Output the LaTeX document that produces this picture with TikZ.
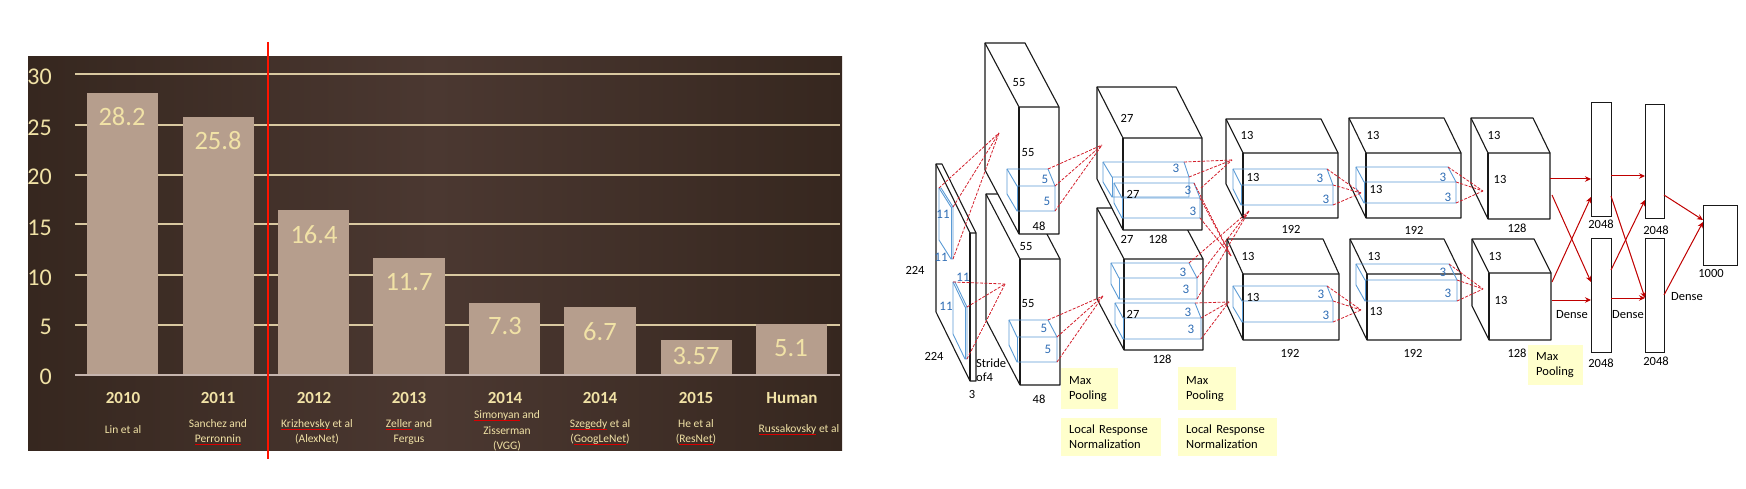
\documentclass[tikz,border=0pt]{standalone}
\usepackage{fontspec}
\setmainfont{Carlito}
\usetikzlibrary{positioning,arrows.meta}
\definecolor{panelDark}{HTML}{36271F}
\definecolor{panelMid}{HTML}{4B3831}
\definecolor{barFill}{HTML}{B69E8D}
\definecolor{gridCol}{HTML}{D9C8A0}
\definecolor{baseCol}{HTML}{C6B5AE}
\definecolor{chartText}{HTML}{F1E2A6}
\definecolor{kernelBlue}{HTML}{5B9BD5}
\definecolor{kernelText}{HTML}{2F6DB5}
\definecolor{linkRed}{HTML}{D3202C}
\definecolor{denseRed}{HTML}{C00000}
\definecolor{noteFill}{HTML}{FFFFCC}
\tikzset{%
  panel/.style={left color=panelDark, right color=panelDark, middle color=panelMid, anchor=north west, inner sep=0pt, minimum width=814pt, minimum height=394pt},
  gridline/.style={draw=gridCol, line width=1.2pt},
  barbox/.style={fill=barFill, anchor=north west, inner sep=0pt, minimum width=71pt},
  axislabel/.style={text=chartText, anchor=east, inner sep=0pt, font=\fontsize{24}{26}\selectfont},
  vallabel/.style={text=chartText, inner sep=0pt, font=\fontsize{26.5}{28}\selectfont},
  yearlabel/.style={text=chartText, inner sep=0pt, font=\fontsize{17}{19}\selectfont\bfseries},
  authorlabel/.style={text=chartText, inner sep=0pt, align=center, font=\fontsize{11.5}{15.5}\selectfont},
  blockline/.style={draw=black!90, line width=1.1pt, line join=round},
  kernelline/.style={draw=kernelBlue, line width=.9pt, line join=round},
  netlabel/.style={inner sep=0pt, font=\fontsize{12.5}{14}\selectfont},
  kernellabel/.style={text=kernelText, inner sep=0pt, font=\fontsize{13}{14}\selectfont},
  redlink/.style={draw=linkRed, line width=.8pt, dash pattern=on 3pt off 1.5pt},
  denselink/.style={draw=denseRed, line width=1pt, -{Stealth[length=6pt,width=5.5pt]}},
  denselayer/.style={draw=black!90, fill=white, line width=1.1pt, inner sep=0pt, anchor=north west},
  notebox/.style={fill=noteFill, inner sep=0pt, anchor=north west, align=left, text width=#1, font=\fontsize{12.5}{15}\selectfont}
}
% name, back x, back y, front x, front y, width, height
\newcommand{\block}[7]{%
  \draw[blockline, fill=white] (#2,#3) -- ({#2+#6},#3) -- ({#4+#6},#5) -- ({#4+#6},{#5+#7}) -- (#4,{#5+#7}) -- (#2,{#3+#7}) -- cycle;
  \draw[blockline] (#2,#3) -- (#4,#5) -- ({#4+#6},#5);
  \draw[blockline] (#4,#5) -- (#4,{#5+#7});
}
% name, back left, back right, back y, front left, front right, front y, front bottom
\newcommand{\kernelbox}[8]{%
  \coordinate (#1-bl) at (#2,#4);
  \coordinate (#1-bk) at (#3,#4);
  \coordinate (#1-fr) at (#6,#7);
  \coordinate (#1-br) at (#6,#8);
  \draw[kernelline] (#2,{#4+#8-#7}) -- (#2,#4) -- (#3,#4) -- (#6,#7) -- (#6,#8) -- (#5,#8) -- (#2,{#4+#8-#7});
  \draw[kernelline] (#2,#4) -- (#5,#7) -- (#6,#7);
  \draw[kernelline] (#5,#7) -- (#5,#8);
}
\newcommand{\spellmark}[1]{\setbox0=\hbox{#1}\rlap{\copy0}\textcolor{red!85!black}{\rule[-2pt]{\wd0}{.7pt}}}

\begin{document}
\begin{tikzpicture}[x=1pt,y=-1pt]
  \useasboundingbox (0,0) rectangle (1746,489);
  % chart
  \node[panel] (panel) at (28,56) {};
  \draw[gridline] (75,74) -- (840,74);
  \draw[gridline] (75,125) -- (840,125);
  \draw[gridline] (75,175) -- (840,175);
  \draw[gridline] (75,224) -- (840,224);
  \draw[gridline] (75,275) -- (840,275);
  \draw[gridline] (75,325) -- (840,325);
  \node[barbox, minimum height=282pt] (b2010) at (87,93) {};
  \node[barbox, minimum height=258pt] (b2011) at (183,117) {};
  \node[barbox, minimum height=165pt] (b2012) at (278,210) {};
  \node[barbox, minimum height=117pt, minimum width=72pt] (b2013) at (373,258) {};
  \node[barbox, minimum height=72pt] (b2014a) at (469,303) {};
  \node[barbox, minimum height=68pt, minimum width=72pt] (b2014b) at (564,307) {};
  \node[barbox, minimum height=35pt] (b2015) at (661,340) {};
  \node[barbox, minimum height=51pt] (bhuman) at (756,324) {};
  \draw[draw=baseCol, line width=1.2pt] (75,375) -- (840,375);
  \node[axislabel] (a30) at (52,77) {30};
  \node[axislabel] (a25) at (52,128) {25};
  \node[axislabel] (a20) at (52,177) {20};
  \node[axislabel] (a15) at (52,228) {15};
  \node[axislabel] (a10) at (52,278) {10};
  \node[axislabel] (a5) at (52,327) {5};
  \node[axislabel] (a0) at (52,377) {0};
  \node[vallabel] (v2010) at (122,117) {28.2};
  \node[vallabel] (v2011) at (218,141) {25.8};
  \node[vallabel] (v2012) at (314,235) {16.4};
  \node[vallabel] (v2013) at (409,282) {11.7};
  \node[vallabel] (v2014a) at (505,326) {7.3};
  \node[vallabel] (v2014b) at (600,332) {6.7};
  \node[vallabel] (v2015) at (696,356) {3.57};
  \node[vallabel] (vhuman) at (791,348) {5.1};
  \node[yearlabel] (y2010) at (123,398) {2010};
  \node[yearlabel] (y2011) at (218,398) {2011};
  \node[yearlabel] (y2012) at (314,398) {2012};
  \node[yearlabel] (y2013) at (409,398) {2013};
  \node[yearlabel] (y2014a) at (505,398) {2014};
  \node[yearlabel] (y2014b) at (600,398) {2014};
  \node[yearlabel] (y2015) at (696,398) {2015};
  \node[yearlabel] (yhuman) at (792,398) {Human};
  \node[authorlabel] (t2010) at (123,430) {Lin et al};
  \node[authorlabel] (t2011) at (218,432) {Sanchez and\\\spellmark{Perronnin}};
  \node[authorlabel] (t2012) at (317,432) {\spellmark{Krizhevsky} et al\\(AlexNet)};
  \node[authorlabel] (t2013) at (409,432) {\spellmark{Zeller} and\\Fergus};
  \node[authorlabel] (t2014a) at (507,431) {\spellmark{Simonyan} and\\Zisserman\\(VGG)};
  \node[authorlabel] (t2014b) at (600,432) {\spellmark{Szegedy} et al\\(\spellmark{GoogLeNet})};
  \node[authorlabel] (t2015) at (696,432) {He et al\\(\spellmark{ResNet})};
  \node[authorlabel] (thuman) at (799,430) {\spellmark{Russakovsky} et al};
  \coordinate (rtop) at (268,42);
  \coordinate (rbot) at (268,459);
  \draw[draw=red!85!orange, line width=2.8pt] (rtop) -- (rbot);
  % input slab
  \block{input}{936}{164}{970}{233}{6}{148}
  \kernelbox{kup}{939}{941}{188}{951}{953}{207}{259}
  \kernelbox{klo}{953}{955}{282}{965}{967}{307}{359}
  \node[kernellabel] (k1) at (943,214) {11};
  \node[kernellabel] (k2) at (941,257) {11};
  \node[kernellabel] (k3) at (963,277) {11};
  \node[kernellabel] (k4) at (946,306) {11};
  \node[netlabel] (n224a) at (915,270) {224};
  \node[netlabel] (n224b) at (934,356) {224};
  \node[netlabel] (n3) at (972,394) {3};
  \node[netlabel, anchor=west, align=left] (stride) at (976,370) {Stride\\of4};
  % first conv pair
  \block{c1lo}{986}{194}{1020}{259}{40}{126}
  \block{c1up}{985}{43}{1019}{107}{40}{127}
  \kernelbox{c1a}{1007}{1048}{169}{1017}{1055}{186}{211}
  \kernelbox{c1b}{1009}{1048}{320}{1017}{1057}{337}{362}
  \node[netlabel] (n55a) at (1019,83) {55};
  \node[netlabel] (n55b) at (1028,153) {55};
  \node[netlabel] (n48a) at (1039,226) {48};
  \node[netlabel] (n55c) at (1026,247) {55};
  \node[netlabel] (n55d) at (1028,304) {55};
  \node[netlabel] (n48b) at (1039,399) {48};
  \node[kernellabel] (k5a) at (1045,179) {5};
  \node[kernellabel] (k5b) at (1047,201) {5};
  \node[kernellabel] (k5c) at (1044,328) {5};
  \node[kernellabel] (k5d) at (1048,349) {5};
  \coordinate (tipA) at (999,133);
  \coordinate (tipB) at (1005,284);
  \draw[redlink] (kup-bl) -- (tipA);
  \draw[redlink] (kup-fr) -- (tipA);
  \draw[redlink] (kup-br) -- (tipA);
  \draw[redlink] (klo-bl) -- (tipB);
  \draw[redlink] (klo-fr) -- (tipB);
  \draw[redlink] (klo-br) -- (tipB);
  % second conv pair
  \block{c2lo}{1097}{208}{1124}{259}{79}{91}
  \block{c2up}{1097}{87}{1123}{138}{79}{92}
  \kernelbox{c2a}{1103}{1184}{162}{1112}{1189}{177}{197}
  \kernelbox{c2b}{1114}{1194}{183}{1122}{1200}{198}{218}
  \kernelbox{c2c}{1111}{1189}{263}{1119}{1197}{278}{299}
  \kernelbox{c2d}{1115}{1195}{303}{1123}{1201}{318}{339}
  \node[netlabel] (n27a) at (1127,118) {27};
  \node[netlabel] (n27b) at (1133,194) {27};
  \node[netlabel] (n27c) at (1127,239) {27};
  \node[netlabel] (n128a) at (1158,239) {128};
  \node[netlabel] (n27d) at (1133,314) {27};
  \node[netlabel] (n128b) at (1162,359) {128};
  \node[kernellabel] (k3a) at (1176,168) {3};
  \node[kernellabel] (k3b) at (1188,190) {3};
  \node[kernellabel] (k3c) at (1193,211) {3};
  \node[kernellabel] (k3d) at (1183,272) {3};
  \node[kernellabel] (k3e) at (1186,289) {3};
  \node[kernellabel] (k3f) at (1188,312) {3};
  \node[kernellabel] (k3g) at (1191,329) {3};
  \coordinate (tipC) at (1102,145);
  \coordinate (tipD) at (1103,296);
  \draw[redlink] (c1a-bk) -- (tipC);
  \draw[redlink] (c1a-fr) -- (tipC);
  \draw[redlink] (c1a-br) -- (tipC);
  \draw[redlink] (c1b-bk) -- (tipD);
  \draw[redlink] (c1b-fr) -- (tipD);
  \draw[redlink] (c1b-br) -- (tipD);
  % third conv pair
  \block{c3up}{1226}{119}{1243}{153}{95}{65}
  \block{c3lo}{1227}{239}{1243}{274}{96}{66}
  \kernelbox{c3a}{1233}{1327}{169}{1241}{1333}{185}{205}
  \kernelbox{c3b}{1233}{1327}{286}{1242}{1333}{301}{322}
  \node[netlabel] (n13a) at (1247,135) {13};
  \node[netlabel] (n13b) at (1253,177) {13};
  \node[netlabel] (n192a) at (1291,229) {192};
  \node[netlabel] (n13c) at (1248,256) {13};
  \node[netlabel] (n13d) at (1253,297) {13};
  \node[netlabel] (n192b) at (1290,353) {192};
  \node[kernellabel] (k3h) at (1320,178) {3};
  \node[kernellabel] (k3i) at (1326,199) {3};
  \node[kernellabel] (k3j) at (1321,294) {3};
  \node[kernellabel] (k3k) at (1326,315) {3};
  \coordinate (tipE) at (1232,160);
  \coordinate (tipF) at (1231,256);
  \coordinate (tipG) at (1249,211);
  \coordinate (tipH) at (1229,302);
  \coordinate (c2bend) at (1201,188);
  \draw[redlink] (c2a-bk) -- (tipE);
  \draw[redlink] (c2a-fr) -- (tipE);
  \draw[redlink] (c2bend) -- (tipE);
  \draw[redlink] (c2b-bk) -- (tipF);
  \draw[redlink] (c2b-fr) -- (tipF);
  \draw[redlink] (c2b-br) -- (tipF);
  \draw[redlink] (c2c-bk) -- (tipG);
  \draw[redlink] (c2c-fr) -- (tipG);
  \draw[redlink] (c2c-br) -- (tipG);
  \draw[redlink] (c2d-bk) -- (tipH);
  \draw[redlink] (c2d-fr) -- (tipH);
  \draw[redlink] (c2d-br) -- (tipH);
  % fourth conv pair
  \block{c4up}{1349}{118}{1366}{153}{95}{65}
  \block{c4lo}{1350}{239}{1367}{274}{94}{66}
  \kernelbox{c4a}{1356}{1448}{167}{1364}{1456}{182}{203}
  \kernelbox{c4b}{1356}{1449}{264}{1365}{1457}{280}{301}
  \node[netlabel] (n13e) at (1373,135) {13};
  \node[netlabel] (n13f) at (1376,189) {13};
  \node[netlabel] (n192c) at (1414,230) {192};
  \node[netlabel] (n13g) at (1374,256) {13};
  \node[netlabel] (n13h) at (1376,311) {13};
  \node[netlabel] (n192d) at (1413,353) {192};
  \node[kernellabel] (k3l) at (1443,177) {3};
  \node[kernellabel] (k3m) at (1448,197) {3};
  \node[kernellabel] (k3n) at (1443,272) {3};
  \node[kernellabel] (k3o) at (1448,293) {3};
  \coordinate (tipI) at (1361,193);
  \coordinate (tipJ) at (1361,310);
  \draw[redlink] (c3a-bk) -- (tipI);
  \draw[redlink] (c3a-fr) -- (tipI);
  \draw[redlink] (c3a-br) -- (tipI);
  \draw[redlink] (c3b-bk) -- (tipJ);
  \draw[redlink] (c3b-fr) -- (tipJ);
  \draw[redlink] (c3b-br) -- (tipJ);
  % fifth conv pair
  \block{c5up}{1471}{118}{1488}{153}{62}{66}
  \block{c5lo}{1472}{239}{1489}{273}{62}{67}
  \node[netlabel] (n13i) at (1494,135) {13};
  \node[netlabel] (n13j) at (1500,179) {13};
  \node[netlabel] (n128c) at (1517,228) {128};
  \node[netlabel] (n13k) at (1495,256) {13};
  \node[netlabel] (n13l) at (1501,300) {13};
  \node[netlabel] (n128d) at (1517,353) {128};
  \coordinate (tipK) at (1483,191);
  \coordinate (tipL) at (1483,289);
  \draw[redlink] (c4a-bk) -- (tipK);
  \draw[redlink] (c4a-fr) -- (tipK);
  \draw[redlink] (c4a-br) -- (tipK);
  \draw[redlink] (c4b-bk) -- (tipL);
  \draw[redlink] (c4b-fr) -- (tipL);
  \draw[redlink] (c4b-br) -- (tipL);
  % dense layers
  \node[denselayer, minimum width=20pt, minimum height=114pt] (d1) at (1591,102) {};
  \node[denselayer, minimum width=20pt, minimum height=114pt] (d2) at (1591,238) {};
  \node[denselayer, minimum width=19pt, minimum height=114pt] (d3) at (1645,104) {};
  \node[denselayer, minimum width=19pt, minimum height=114pt] (d4) at (1645,238) {};
  \node[denselayer, minimum width=34pt, minimum height=60pt] (d5) at (1703,205) {};
  \coordinate (c5upa) at (1550,179);
  \coordinate (c5upb) at (1552,195);
  \coordinate (c5loa) at (1552,282);
  \coordinate (c5lob) at (1552,300);
  \draw[denselink] (c5upa) -- (d1.west |- c5upa);
  \draw[denselink] (c5upb) -- (1591,282);
  \draw[denselink] (c5loa) -- (1591,197);
  \draw[denselink] (c5lob) -- (d2.west |- c5lob);
  \coordinate (d1a) at (1611,176);
  \coordinate (d1b) at (1611,196);
  \coordinate (d2a) at (1611,270);
  \coordinate (d2b) at (1611,298);
  \draw[denselink] (d1a) -- (d3.west |- d1a);
  \draw[denselink] (d1b) -- (1645,298);
  \draw[denselink] (d2a) -- (1645,200);
  \draw[denselink] (d2b) -- (d4.west |- d2b);
  \coordinate (d3a) at (1664,195);
  \coordinate (d4a) at (1664,295);
  \draw[denselink] (d3a) -- (1703,220);
  \draw[denselink] (d4a) -- (1703,222);
  \node[netlabel] (n2048a) at (1601,224) {2048};
  \node[netlabel] (n2048b) at (1601,363) {2048};
  \node[netlabel] (n2048c) at (1656,230) {2048};
  \node[netlabel] (n2048d) at (1656,361) {2048};
  \node[netlabel] (n1000) at (1711,273) {1000};
  \node[netlabel] (dens1) at (1572,315) {Dense};
  \node[netlabel] (dens2) at (1628,315) {Dense};
  \node[netlabel] (dens3) at (1687,297) {Dense};
  % notes
  \node[notebox=57pt, minimum height=41pt] (maxpoola) at (1061,368) {\hspace*{8pt}Max\\\hspace*{8pt}Pooling};
  \node[notebox=100pt, minimum height=38pt] (lrna) at (1061,418) {\hspace*{8pt}Local Response\\\hspace*{8pt}Normalization};
  \node[notebox=58pt, minimum height=43pt] (maxpoolb) at (1178,367) {\hspace*{8pt}Max\\\hspace*{8pt}Pooling};
  \node[notebox=99pt, minimum height=38pt] (lrnb) at (1178,418) {\hspace*{8pt}Local Response\\\hspace*{8pt}Normalization};
  \node[notebox=55pt, minimum height=40pt] (maxpoolc) at (1528,345) {\hspace*{8pt}Max\\\hspace*{8pt}Pooling};
\end{tikzpicture}
\end{document}
